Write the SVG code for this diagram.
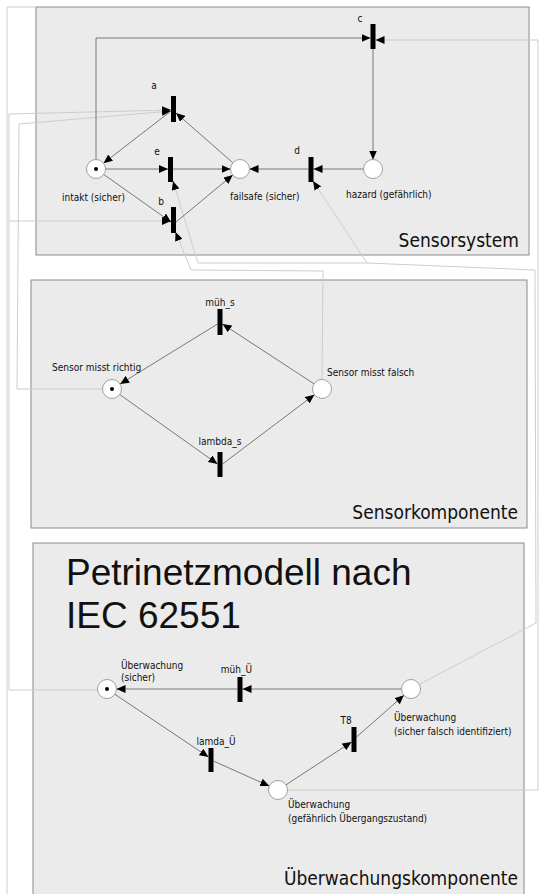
<svg xmlns="http://www.w3.org/2000/svg" width="539" height="894" viewBox="0 0 539 894">
<style>
.panel{fill:#ebebeb;stroke:#8a8a8a;stroke-width:1}
.pl{fill:#fff;stroke:#8a8a8a;stroke-width:0.8}
.tok{fill:#000}
.tr{fill:#000}
.arc{fill:none;stroke:#5a5a5a;stroke-width:0.8}
.lnk{fill:none;stroke:#cdcdcd;stroke-width:1}
.lb{font-family:"DejaVu Sans Condensed","DejaVu Sans",sans-serif;font-stretch:condensed;font-size:10px;fill:#111}
.big{font-family:"DejaVu Sans Condensed","DejaVu Sans",sans-serif;font-stretch:condensed;font-size:19px;fill:#111}
.title{font-family:"Liberation Sans",Arial,sans-serif;font-size:37px;fill:#111}
.c{text-anchor:middle}
.r{text-anchor:end}
</style>
<defs>
<marker id="ah" markerUnits="userSpaceOnUse" markerWidth="10" markerHeight="8" refX="9" refY="4" orient="auto">
<path d="M0,0 L9,4 L0,8 Z" fill="#000"/>
</marker>
</defs>

<g id="panels">
<rect id="panel-sensorsystem" class="panel" x="36" y="7" width="493" height="248"/>
<rect id="panel-sensorkomponente" class="panel" x="31" y="280" width="496" height="248"/>
<rect id="panel-ueberwachung" class="panel" x="33" y="543" width="491" height="360"/>
<text class="big r" x="519" y="247">Sensorsystem</text>
<text class="big r" x="518" y="519">Sensorkomponente</text>
<text class="title" x="66" y="585">Petrinetzmodell nach</text>
<text class="title" x="66" y="628">IEC 62551</text>
<text class="big r" x="518" y="885">Überwachungskomponente</text>
</g>

<g id="links">
<path class="lnk" d="M36,7 H7 V894"/>
<path class="lnk" d="M97.5,690 L9,690 L9,114 L171,110" marker-end="url(#ah)"/>
<path class="lnk" d="M102.5,389 L17,389 L19,124 L171,111" marker-end="url(#ah)"/>
<path class="lnk" d="M9,221 L171,221" marker-end="url(#ah)"/>
<path class="lnk" d="M322,379.5 L323,271 L191,270 L175.5,232" marker-end="url(#ah)"/>
<path class="lnk" d="M420,684 L536,623 L535,270 L367,263 L313,181" marker-end="url(#ah)"/>
<path class="lnk" d="M367,263 L198,263 L173,181" marker-end="url(#ah)"/>
<path class="lnk" d="M287.5,790 L538,790 L538,40 L375.5,40" marker-end="url(#ah)"/>
</g>

<g id="arcs">
<path class="arc" d="M96,159.5 V38 H370.5" marker-end="url(#ah)"/>
<path class="arc" d="M373,49 V159.5" marker-end="url(#ah)"/>
<path class="arc" d="M363.5,169 H313.5" marker-end="url(#ah)"/>
<path class="arc" d="M308.5,169 H249.5" marker-end="url(#ah)"/>
<path class="arc" d="M232.8,162.7 L176,113" marker-end="url(#ah)"/>
<path class="arc" d="M171,111 L103.5,163.2" marker-end="url(#ah)"/>
<path class="arc" d="M105.5,169 H168" marker-end="url(#ah)"/>
<path class="arc" d="M173,169 H230.5" marker-end="url(#ah)"/>
<path class="arc" d="M103.8,174.5 L171,222" marker-end="url(#ah)"/>
<path class="arc" d="M176,222 L232.7,175.1" marker-end="url(#ah)"/>

<path class="arc" d="M217.5,324 L120.1,384" marker-end="url(#ah)"/>
<path class="arc" d="M314,383.8 L222.5,324" marker-end="url(#ah)"/>
<path class="arc" d="M119.7,394.5 L217.5,464" marker-end="url(#ah)"/>
<path class="arc" d="M222.5,464 L314.4,394.7" marker-end="url(#ah)"/>

<path class="arc" d="M401.5,689 H242.5" marker-end="url(#ah)"/>
<path class="arc" d="M237.5,689 H116.5" marker-end="url(#ah)"/>
<path class="arc" d="M114.9,694.3 L208.5,757" marker-end="url(#ah)"/>
<path class="arc" d="M213.5,761 L269.3,786.1" marker-end="url(#ah)"/>
<path class="arc" d="M286,784.8 L351.5,742" marker-end="url(#ah)"/>
<path class="arc" d="M356.5,737 L403.9,695.3" marker-end="url(#ah)"/>
</g>

<g id="p-intakt"><circle class="pl" cx="96" cy="169" r="9.5"/><circle class="tok" cx="96" cy="169" r="2"/><text class="lb" x="62" y="201">intakt (sicher)</text></g>
<g id="p-failsafe"><circle class="pl" cx="240" cy="169" r="9.5"/><text class="lb" x="230" y="200">failsafe (sicher)</text></g>
<g id="p-hazard"><circle class="pl" cx="373" cy="169" r="9.5"/><text class="lb" x="346" y="198">hazard (gefährlich)</text></g>
<g id="t-a"><rect class="tr" x="171" y="96" width="5" height="26"/><text class="lb c" x="154" y="89">a</text></g>
<g id="t-e"><rect class="tr" x="168" y="157" width="5" height="25"/><text class="lb c" x="157" y="155">e</text></g>
<g id="t-b"><rect class="tr" x="171" y="207" width="5" height="26"/><text class="lb c" x="161" y="205">b</text></g>
<g id="t-c"><rect class="tr" x="370.5" y="24" width="5" height="25"/><text class="lb c" x="360" y="22">c</text></g>
<g id="t-d"><rect class="tr" x="308.5" y="157" width="5" height="25"/><text class="lb c" x="297" y="154">d</text></g>

<g id="p-sensor-richtig"><circle class="pl" cx="112" cy="389" r="9.5"/><circle class="tok" cx="112" cy="389" r="2"/><text class="lb" x="52" y="371">Sensor misst richtig</text></g>
<g id="p-sensor-falsch"><circle class="pl" cx="322" cy="389" r="9.5"/><text class="lb" x="327" y="376">Sensor misst falsch</text></g>
<g id="t-mueh-s"><rect class="tr" x="217.5" y="309" width="5" height="26"/><text class="lb c" x="220" y="306">müh_s</text></g>
<g id="t-lambda-s"><rect class="tr" x="217.5" y="452" width="5" height="25"/><text class="lb c" x="220" y="445">lambda_s</text></g>

<g id="p-ue-sicher"><circle class="pl" cx="107" cy="689" r="9.5"/><circle class="tok" cx="107" cy="689" r="2"/><text class="lb" x="121" y="669">Überwachung</text><text class="lb" x="121" y="681">(sicher)</text></g>
<g id="p-ue-sfi"><circle class="pl" cx="411" cy="689" r="9.5"/><text class="lb" x="394" y="721">Überwachung</text><text class="lb" x="394" y="735">(sicher falsch identifiziert)</text></g>
<g id="p-ue-gef"><circle class="pl" cx="278" cy="790" r="9.5"/><text class="lb" x="288" y="808">Überwachung</text><text class="lb" x="288" y="822">(gefährlich Übergangszustand)</text></g>
<g id="t-mueh-ue"><rect class="tr" x="237.5" y="677" width="5" height="25"/><text class="lb c" x="236.5" y="673">müh_Ü</text></g>
<g id="t-lamda-ue"><rect class="tr" x="208.5" y="748" width="5" height="24"/><text class="lb c" x="216" y="745">lamda_Ü</text></g>
<g id="t-t8"><rect class="tr" x="351.5" y="727" width="5" height="25"/><text class="lb c" x="346" y="724">T8</text></g>
</svg>
